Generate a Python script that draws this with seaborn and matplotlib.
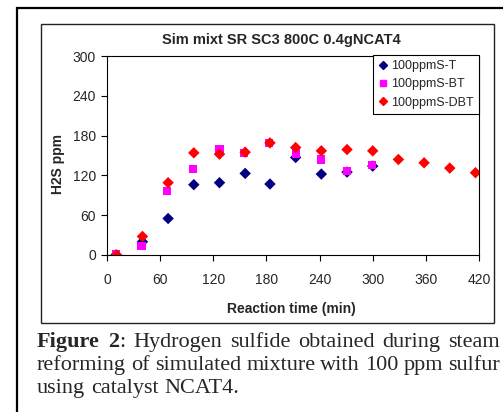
import pandas as pd
import matplotlib
matplotlib.use("Agg")
import matplotlib.pyplot as plt
import seaborn as sns
from matplotlib.patches import Rectangle
from matplotlib.lines import Line2D

# Dados
time_t = [10, 40, 69, 98, 127, 156, 184, 213, 242, 271, 300]
h2s_t = [0, 20, 55, 106, 109, 123, 107, 147, 122, 125, 134]

time_bt = [10, 39, 68, 97, 127, 155, 183, 213, 242, 271, 299]
h2s_bt = [1, 13, 97, 129, 160, 154, 169, 153, 144, 127, 136]

time_dbt = [11, 40, 69, 98, 127, 156, 184, 213, 242, 271, 300, 329, 358, 387, 416]
h2s_dbt = [0, 28, 109, 154, 152, 155, 169, 162, 157, 159, 157, 144, 139, 131, 124]

series = ["100ppmS-T", "100ppmS-BT", "100ppmS-DBT"]
colors = ["#000080", "#FF00FF", "#FF0000"]
markers = ["D", "s", "D"]

x_ticks = [0, 60, 120, 180, 240, 300, 360, 420]
y_ticks = [0, 60, 120, 180, 240, 300]

title = "Sim mixt SR SC3 800C 0.4gNCAT4"
x_label = "Reaction time (min)"
y_label = "H2S ppm"

# Monta o dataframe
df = pd.concat([
    pd.DataFrame({"time": time_t, "h2s": h2s_t, "serie": series[0]}),
    pd.DataFrame({"time": time_bt, "h2s": h2s_bt, "serie": series[1]}),
    pd.DataFrame({"time": time_dbt, "h2s": h2s_dbt, "serie": series[2]}),
], ignore_index=True)

sns.set_style("white")
plt.rcParams["font.family"] = ["Liberation Sans", "DejaVu Sans"]

W, H = 503, 412
fig = plt.figure(figsize=(W / 100, H / 100), dpi=100)


def px(x0, y0, x1, y1):
    # converte pixels (origem no topo) para coordenadas da figura
    return [x0 / W, 1 - y1 / H, (x1 - x0) / W, (y1 - y0) / H]


# Moldura externa e da area do grafico
fig.patches.append(Rectangle((16.5 / W, -0.1), 1.2, 1 - 8 / H + 0.1, transform=fig.transFigure,
                             fill=False, lw=1.6, ec="black"))
fig.patches.append(Rectangle((41 / W, 1 - 323 / H), (494 - 41) / W, (323 - 24) / H,
                             transform=fig.transFigure, fill=False, lw=1.0, ec="#222222"))

ax = fig.add_axes(px(107, 56, 479, 255))
sns.scatterplot(data=df, x="time", y="h2s", hue="serie", style="serie",
                palette=dict(zip(series, colors)), markers=dict(zip(series, markers)),
                s=34, edgecolor="none", linewidth=0, legend=False, ax=ax, zorder=3)

ax.set_xlim(0, 420)
ax.set_ylim(0, 300)
ax.set_xticks(x_ticks)
ax.set_yticks(y_ticks)
ax.tick_params(axis="both", direction="out", length=4, width=0.8, color="black",
               labelsize=10, left=True, bottom=True)
ax.tick_params(axis="x", pad=9)
ax.tick_params(axis="y", pad=4)
for sp in ax.spines.values():
    sp.set_visible(True)
    sp.set_color("black")
    sp.set_linewidth(0.8)
ax.set_xlabel("")
ax.set_ylabel("")

fig.text(281 / W, 1 - 40 / H, title, ha="center", va="center", fontsize=10.5, fontweight="bold")
fig.text(291 / W, 1 - 309 / H, x_label, ha="center", va="center", fontsize=10, fontweight="bold")
fig.text(58 / W, 1 - 164 / H, y_label, ha="center", va="center", fontsize=10,
         fontweight="bold", rotation=90)

# Legenda
handles = [Line2D([], [], ls="none", marker=m, color=c, markersize=5 if m == "s" else 4.5)
           for m, c in zip(markers, colors)]
leg = ax.legend(handles, series, loc="upper right", bbox_to_anchor=(1.0, 1.005), fontsize=9,
                frameon=True, fancybox=False, edgecolor="black", framealpha=1,
                borderpad=0.4, labelspacing=0.5, handlelength=0.8, handletextpad=0.3,
                borderaxespad=0)
leg.get_frame().set_linewidth(0.8)
leg.set_zorder(5)

# Legenda da figura (texto justificado)
cap_font = dict(family="Liberation Serif", fontsize=16)
lines = [
    [[("Figure", True)], [("2", True), (":", False)], [("Hydrogen", False)], [("sulfide", False)],
     [("obtained", False)], [("during", False)], [("steam", False)]],
    [[("reforming", False)], [("of", False)], [("simulated", False)], [("mixture", False)],
     [("with", False)], [("100", False)], [("ppm", False)], [("sulfur", False)]],
    [[("using", False)], [("catalyst", False)], [("NCAT4.", False)]],
]
baselines = [347, 370, 393]
x_left, x_right = 37, 500

renderer = fig.canvas.get_renderer()


def seg_width(txt, bold):
    t = fig.text(0, 0, txt, fontweight="bold" if bold else "normal", **cap_font)
    w = t.get_window_extent(renderer).width
    t.remove()
    return w


space_w = seg_width("a b", False) - seg_width("ab", False)
for i, (words, base) in enumerate(zip(lines, baselines)):
    widths = [sum(seg_width(s, b) for s, b in word) for word in words]
    if i < 2:
        gap = (x_right - x_left - sum(widths)) / (len(words) - 1)
    else:
        gap = space_w
    x = x_left
    for word, w in zip(words, widths):
        xs = x
        for s, b in word:
            fig.text(xs / W, 1 - base / H, s, ha="left", va="baseline",
                     fontweight="bold" if b else "normal", **cap_font)
            xs += seg_width(s, b)
        x += w + gap

fig.savefig("out.png", dpi=100)
